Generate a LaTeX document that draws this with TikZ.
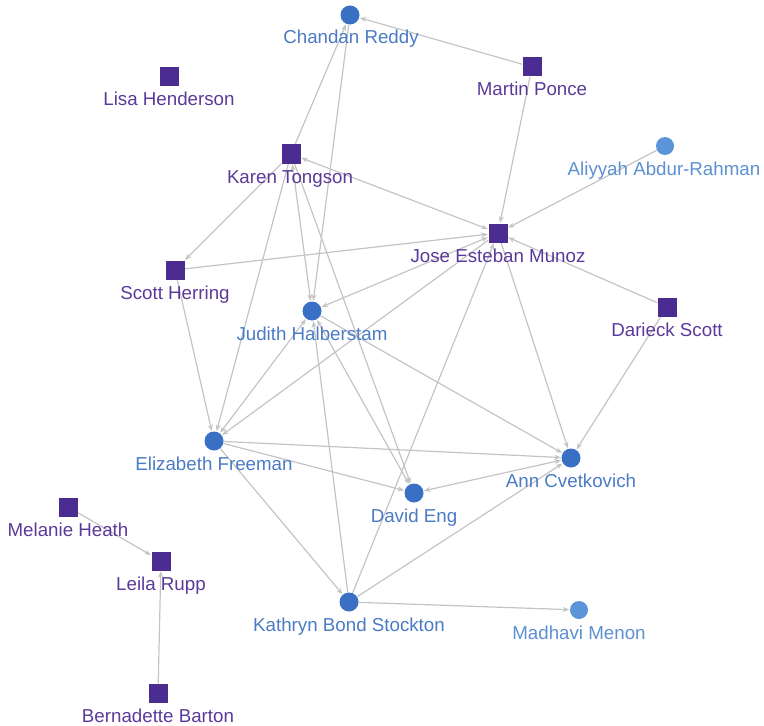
\documentclass[tikz,border=0pt]{standalone}
\usepackage{fontspec}
\setmainfont{Liberation Sans}
\usetikzlibrary{arrows.meta}
\definecolor{sq}{HTML}{4B2C91}
\definecolor{sqtext}{HTML}{5A3A99}
\definecolor{ci}{HTML}{3A70C4}
\definecolor{citext}{HTML}{4A7BC4}
\definecolor{cil}{HTML}{5B95D8}
\definecolor{ciltext}{HTML}{5D90D0}
\definecolor{edgecol}{HTML}{C4C4C4}
\pgfdeclarelayer{bg}
\pgfsetlayers{bg,main}
\begin{document}
\begin{tikzpicture}[x=1bp,y=-1bp,
 sqnode/.style={rectangle,fill=sq,minimum size=19bp,inner sep=0},
 cinode/.style={circle,fill=ci,minimum size=19bp,inner sep=0},
 cilnode/.style={circle,fill=cil,minimum size=18bp,inner sep=0},
 lab/.style={anchor=base,font=\fontsize{18.8}{20}\selectfont,inner sep=0},
 sqlab/.style={lab,text=sqtext},
 cilab/.style={lab,text=citext},
 cillab/.style={lab,text=ciltext},
 edg/.style={draw=edgecol,line width=1.2bp,-{Stealth[length=6.5bp,width=5bp]},shorten >=0.5bp},
 bi/.style={draw=edgecol,line width=1.2bp,{Stealth[length=6.5bp,width=5bp]}-{Stealth[length=6.5bp,width=5bp]},shorten >=0.5bp,shorten <=0.5bp}
]
\useasboundingbox (0,0) rectangle (764,726);
% markers
\node[cinode] (chandan) at (350,15) {};
\node[sqnode] (martin) at (532,67) {};
\node[sqnode] (lisa) at (169,77) {};
\node[sqnode] (karen) at (291,154) {};
\node[cilnode] (aliyyah) at (665,146) {};
\node[sqnode] (jose) at (498,233) {};
\node[sqnode] (scott) at (175,270) {};
\node[cinode] (judith) at (312,311) {};
\node[sqnode] (darieck) at (667,307) {};
\node[cinode] (elizabeth) at (214,441) {};
\node[cinode] (ann) at (571,458) {};
\node[cinode] (david) at (414,493) {};
\node[sqnode] (melanie) at (68,507) {};
\node[sqnode] (leila) at (161,561) {};
\node[cinode] (kathryn) at (349,602) {};
\node[cilnode] (madhavi) at (579,610) {};
\node[sqnode] (bernadette) at (158,693) {};
% labels
\node[cilab] (lchandan) at (351,44) {Chandan Reddy};
\node[sqlab] (lmartin) at (532,96) {Martin Ponce};
\node[sqlab] (llisa) at (169,106) {Lisa Henderson};
\node[sqlab] (lkaren) at (290,183) {Karen Tongson};
\node[cillab] (laliyyah) at (664,175) {Aliyyah Abdur-Rahman};
\node[sqlab] (ljose) at (498,262) {Jose Esteban Munoz};
\node[sqlab] (lscott) at (175,299) {Scott Herring};
\node[cilab] (ljudith) at (312,340) {Judith Halberstam};
\node[sqlab] (ldarieck) at (667,336) {Darieck Scott};
\node[cilab] (lelizabeth) at (214,470) {Elizabeth Freeman};
\node[cilab] (lann) at (571,487) {Ann Cvetkovich};
\node[cilab] (ldavid) at (414,522) {David Eng};
\node[sqlab] (lmelanie) at (68,536) {Melanie Heath};
\node[sqlab] (lleila) at (161,590) {Leila Rupp};
\node[cilab] (lkathryn) at (349,631) {Kathryn Bond Stockton};
\node[cillab] (lmadhavi) at (579,639) {Madhavi Menon};
\node[sqlab] (lbernadette) at (158,722) {Bernadette Barton};
% edges
\begin{pgfonlayer}{bg}
\draw[edg] (martin) -- (chandan);
\draw[edg] (martin) -- (jose);
\draw[edg] (karen) -- (chandan);
\draw[edg] (chandan) -- (judith);
\draw[bi] (karen) -- (jose);
\draw[edg] (karen) -- (scott);
\draw[edg] (karen) -- (elizabeth);
\draw[bi] (karen) -- (judith);
\draw[edg] (karen) -- (david);
\draw[edg] (scott) -- (jose);
\draw[edg] (scott) -- (elizabeth);
\draw[edg] (aliyyah) -- (jose);
\draw[edg] (darieck) -- (jose);
\draw[edg] (darieck) -- (ann);
\draw[bi] (jose) -- (judith);
\draw[edg] (jose) -- (elizabeth);
\draw[edg] (jose) -- (ann);
\draw[edg] (kathryn) -- (jose);
\draw[edg] (judith) -- (ann);
\draw[bi] (judith) -- (david);
\draw[edg] (kathryn) -- (judith);
\draw[bi] (judith) -- (elizabeth);
\draw[edg] (elizabeth) -- (ann);
\draw[edg] (elizabeth) -- (david);
\draw[edg] (elizabeth) -- (kathryn);
\draw[bi] (ann) -- (david);
\draw[edg] (kathryn) -- (ann);
\draw[edg] (kathryn) -- (madhavi);
\draw[edg] (melanie) -- (leila);
\draw[edg] (bernadette) -- (leila);
\end{pgfonlayer}
\end{tikzpicture}
\end{document}
